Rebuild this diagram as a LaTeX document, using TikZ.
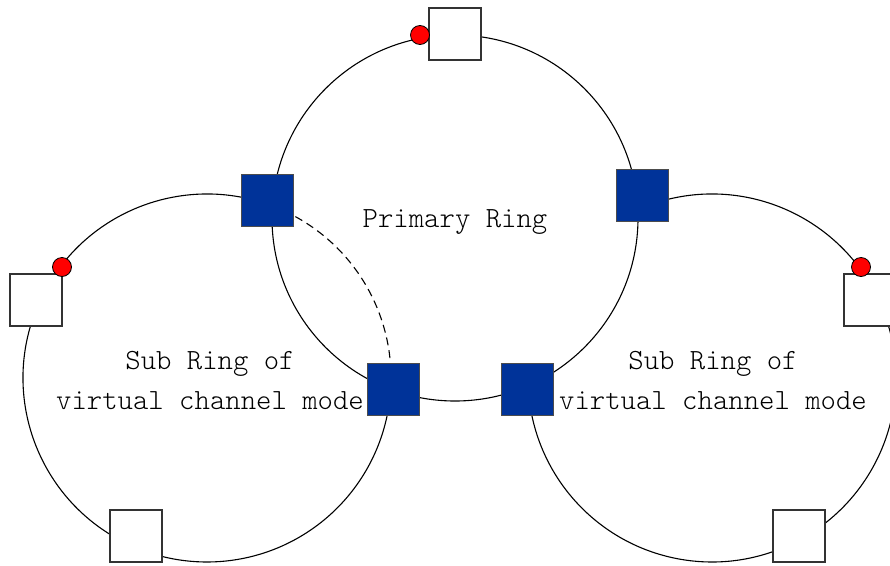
\documentclass[tikz,border=0pt]{standalone}
\usepackage{xcolor}
\usepackage{tikz}
\usetikzlibrary{positioning}

\definecolor{swblue}{RGB}{0,51,153}

\begin{document}
\begin{tikzpicture}[
    x=1pt, y=-1pt,
    ring/.style={line width=1.1pt},
    station/.style={rectangle, draw=black!80, line width=1.5pt, fill=white, minimum size=52pt, inner sep=0pt},
    master/.style={rectangle, draw=black!70, line width=0.8pt, fill=swblue, minimum size=52pt, inner sep=0pt},
    blocked/.style={circle, draw, fill=red, line width=0.8pt, minimum size=19pt, inner sep=0pt},
    ringtext/.style={font=\ttfamily\fontseries{l}\fontsize{29.3}{40}\selectfont, align=center, inner sep=0pt}
]
    \useasboundingbox (0,0) rectangle (890,565);
    \clip (0,0) rectangle (890,565);

    % ring centres
    \coordinate (primary) at (455,218);
    \coordinate (subL) at (207,378);
    \coordinate (subR) at (712,378);

    % rings
    \draw [ring] (primary) circle [radius=183];
    \draw [ring] ([shift={(-64:184)}]subL) arc [start angle=-64, end angle=-350, radius=184];
    \draw [ring, dash pattern=on 8pt off 5pt] ([shift={(10:184)}]subL) arc [start angle=10, end angle=-64, radius=184];
    \draw [ring] ([shift={(-110:184)}]subR) arc [start angle=-110, end angle=180, radius=184];

    % interconnection nodes
    \node [master] (mTL) at (267,200) {};
    \node [master] (mTR) at (642,195) {};
    \node [master] (mBL) at (393,389) {};
    \node [master] (mBR) at (527,389) {};

    % ordinary ring nodes
    \node [station] (top) at (455,34) {};
    \node [station] (left) at (36,300) {};
    \node [station] (right) at (870,300) {};
    \node [station] (botL) at (136,536) {};
    \node [station] (botR) at (799,536) {};

    % blocked ports
    \node [blocked] (bTop) at (420,35) {};
    \node [blocked] (bLeft) at (62,267) {};
    \node [blocked] (bRight) at (861,267) {};

    % texts
    \node [ringtext, anchor=base] (tPrimary) at (455,227) {Primary Ring};
    \node [ringtext] (tSubL) at (210,380) {Sub Ring of\\virtual channel mode};
    \node [ringtext] (tSubR) at (713,380) {Sub Ring of\\virtual channel mode};
\end{tikzpicture}
\end{document}
